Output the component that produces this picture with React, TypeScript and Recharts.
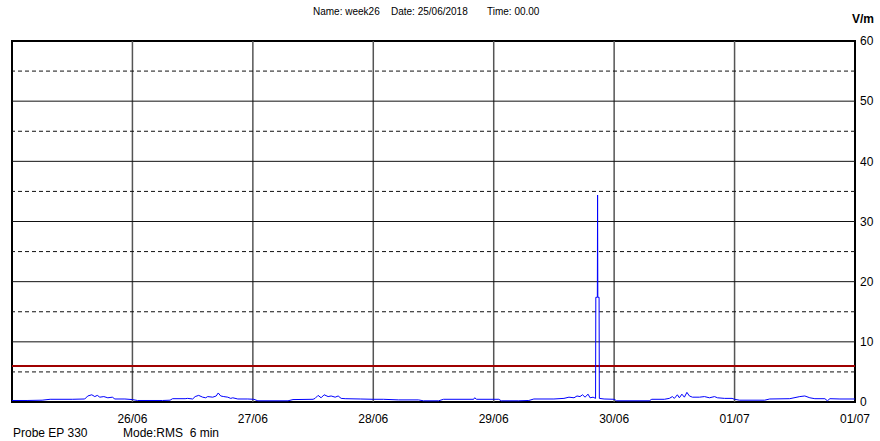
import React from "react";
import {
  LineChart,
  Line,
  XAxis,
  YAxis,
  ReferenceLine,
  ReferenceArea,
} from "recharts";

// hours since 25/06/2018 00:00
const hours = [
  0, 3, 6, 7.6, 12, 14.5, 15.1, 15.9, 16.5, 17, 17.5, 18.3, 19.1, 20, 20.5, 22.5, 24, 25, 30, 31.5,
  32, 34.5, 35, 36, 36.5, 37.2, 38, 38.6, 39, 40, 40.7, 41.1, 41.6, 42.2, 43, 43.6, 44, 45, 47, 48.2,
  49, 55, 56, 60, 60.4, 61, 61.6, 62.2, 63, 63.6, 64.4, 65, 65.6, 66.4, 69.4, 72, 74, 77, 81, 82,
  85, 86, 92, 92.2, 92.6, 97, 97.5, 101, 103, 104, 108, 110, 111, 112, 112.6, 113.2, 113.7, 114.2, 114.8, 115.2,
  115.8, 116.3, 116.35, 116.65, 116.7, 116.75, 117, 117.05, 118, 120, 120.5, 127, 127.5, 130, 131, 131.6, 132, 132.6, 133, 133.5,
  134, 134.5, 135, 135.6, 137, 138, 139, 140, 140.6, 142, 143.5, 144, 145, 150, 151, 155, 157, 158, 159, 160,
  162, 162.5, 163, 165, 168,
];
const vm = [
  0.25, 0.25, 0.3, 0.45, 0.45, 0.5, 1.0, 1.2, 0.9, 1.1, 0.8, 0.9, 0.7, 0.8, 0.5, 0.5, 0.4, 0.25, 0.25, 0.3,
  0.55, 0.55, 0.6, 0.5, 0.9, 1.1, 0.8, 0.7, 0.9, 0.8, 1.0, 1.5, 1.0, 0.9, 0.8, 0.6, 0.7, 0.5, 0.5, 0.45,
  0.2, 0.2, 0.4, 0.45, 0.6, 1.1, 0.7, 1.2, 0.9, 1.0, 0.8, 1.0, 0.6, 0.55, 0.5, 0.45, 0.45, 0.35, 0.35, 0.2,
  0.2, 0.45, 0.45, 0.7, 0.45, 0.45, 0.2, 0.2, 0.25, 0.5, 0.5, 0.6, 0.8, 0.7, 1.0, 0.9, 1.2, 0.8, 1.3, 0.7,
  0.8, 0.6, 17.4, 17.4, 34.4, 17.4, 17.4, 0.6, 0.5, 0.45, 0.2, 0.2, 0.45, 0.45, 0.6, 0.9, 0.6, 1.2, 0.7, 1.3,
  0.8, 1.6, 1.0, 0.8, 0.8, 0.9, 0.7, 0.9, 0.7, 0.6, 0.6, 0.45, 0.3, 0.3, 0.5, 0.55, 0.9, 1.0, 0.7, 0.55,
  0.55, 0.2, 0.55, 0.5, 0.5,
];

const xTicks = [24, 48, 72, 96, 120, 144, 168];
const xTickLabels = ["26/06", "27/06", "28/06", "29/06", "30/06", "01/07", "01/07"];
const dayLines = [24, 48, 72, 96, 120, 144];
const yTicks = [0, 10, 20, 30, 40, 50, 60];
const solidLevels = [10, 20, 30, 40, 50];
const dashedLevels = [5, 15, 25, 35, 45, 55];
const limitLevel = 6;

const data = hours.map((h, i) => ({ h, v: vm[i] }));

const FONT = "'Liberation Sans', Arial, sans-serif";

export default function App() {
  const txt: React.CSSProperties = { position: "absolute", fontSize: 10, color: "#000", whiteSpace: "pre" };
  return (
    <div style={{ position: "absolute", left: 0, top: 0, width: 880, height: 441, background: "#fff", fontFamily: FONT }}>
      <div style={{ ...txt, left: 313, top: 6 }}>Name: week26</div>
      <div style={{ ...txt, left: 391, top: 6 }}>Date: 25/06/2018</div>
      <div style={{ ...txt, left: 487, top: 6 }}>Time: 00.00</div>
      <div style={{ ...txt, left: 852, top: 12, fontSize: 12, fontWeight: "bold" }}>V/m</div>
      <div style={{ ...txt, left: 13, top: 426, fontSize: 12 }}>Probe EP 330</div>
      <div style={{ ...txt, left: 123, top: 426, fontSize: 12 }}>{"Mode:RMS  6 min"}</div>
      <LineChart
        width={880}
        height={441}
        data={data}
        margin={{ top: 41, left: 12, right: 0, bottom: 0 }}
      >
        <XAxis
          dataKey="h"
          type="number"
          domain={[0, 168]}
          ticks={xTicks}
          tickFormatter={(v: number) => xTickLabels[xTicks.indexOf(v)] ?? ""}
          axisLine={false}
          tickLine={false}
          tickSize={0}
          tickMargin={12}
          height={39}
          interval={0}
          tick={{ fill: "#000", fontSize: 12, fontFamily: FONT }}
        />
        <YAxis
          orientation="right"
          type="number"
          domain={[0, 60]}
          ticks={yTicks}
          axisLine={false}
          tickLine={false}
          tickSize={0}
          tickMargin={5}
          width={25}
          interval={0}
          tick={{ fill: "#000", fontSize: 12, fontFamily: FONT, textAnchor: "start" }}
        />
        {dayLines.map((d) => (
          <ReferenceLine key={"d" + d} x={d} stroke="#555" strokeWidth={1.5} />
        ))}
        {solidLevels.map((l) => (
          <ReferenceLine key={"s" + l} y={l} stroke="#111" strokeWidth={1} />
        ))}
        {dashedLevels.map((l) => (
          <ReferenceLine key={"h" + l} y={l} stroke="#111" strokeWidth={1} strokeDasharray="4 3" />
        ))}
        <ReferenceLine y={limitLevel} stroke="#a00000" strokeWidth={2} />
        <Line
          type="linear"
          dataKey="v"
          stroke="#0000ff"
          strokeWidth={1}
          dot={false}
          isAnimationActive={false}
        />
        <ReferenceArea x1={0} x2={168} y1={0} y2={60} fill="none" stroke="#000" strokeWidth={2} />
      </LineChart>
    </div>
  );
}
